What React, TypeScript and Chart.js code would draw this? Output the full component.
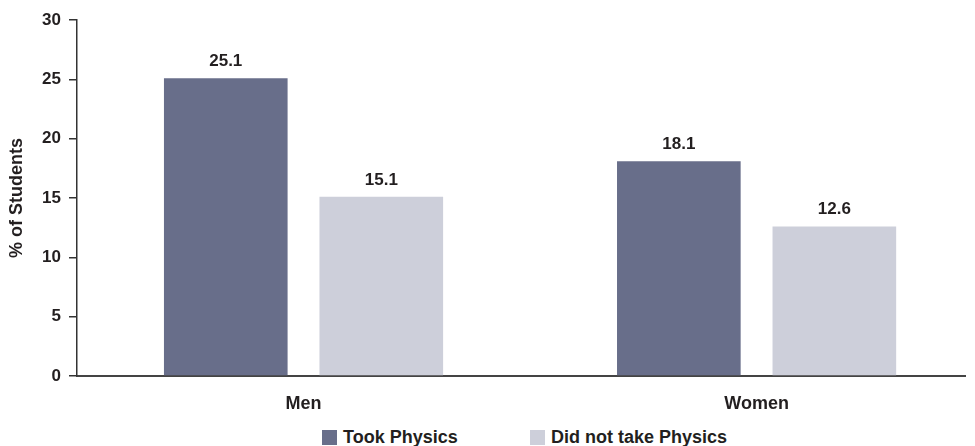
import React, { useEffect, useRef } from "react";
import { Chart, registerables } from "chart.js";

Chart.register(...registerables);

const categories = ["Men", "Women"];
const tookPhysics = [25.1, 18.1];
const didNotTakePhysics = [15.1, 12.6];
const seriesNames = ["Took Physics", "Did not take Physics"];
const seriesColors = ["#686e8a", "#cdcfda"];
const yTicks = [0, 5, 10, 15, 20, 25, 30];
const yTitle = "% of Students";

const FONT = '"Liberation Sans", Arial, Helvetica, sans-serif';
const TEXT = "#231f20";

const valueLabels = {
  id: "valueLabels",
  afterDatasetsDraw(chart: any) {
    const ctx = chart.ctx;
    ctx.save();
    ctx.font = `bold 17px ${FONT}`;
    ctx.fillStyle = TEXT;
    ctx.textAlign = "center";
    ctx.textBaseline = "alphabetic";
    chart.data.datasets.forEach((ds: any, di: number) => {
      const meta = chart.getDatasetMeta(di);
      meta.data.forEach((el: any, i: number) => {
        const v = ds.data[i].y;
        ctx.fillText(Number(v).toFixed(1), el.x, el.y - 12);
      });
    });
    ctx.restore();
  },
};

export default function App() {
  const ref = useRef<HTMLCanvasElement | null>(null);

  useEffect(() => {
    if (!ref.current) return;
    const series = [tookPhysics, didNotTakePhysics];
    const chart = new Chart(ref.current, {
      type: "bar",
      data: {
        datasets: series.map((vals, si) => ({
          label: seriesNames[si],
          data: vals.map((v, i) => ({ x: i, y: v })),
          backgroundColor: seriesColors[si],
          borderWidth: 0,
          categoryPercentage: 0.6865,
          barPercentage: 0.795,
        })),
      },
      options: {
        responsive: false,
        animation: false,
        layout: { padding: { top: 20, right: 10, left: 0, bottom: 0 } },
        plugins: {
          legend: { display: false },
          tooltip: { enabled: false },
        },
        scales: {
          x: {
            type: "linear",
            min: -0.5,
            max: 1.46,
            offset: false,
            grid: { display: false, drawTicks: false, offset: false },
            border: { display: true, color: "#444", width: 2 },
            afterBuildTicks: (s: any) => {
              s.ticks = categories.map((_, i) => ({ value: i }));
            },
            ticks: {
              autoSkip: false,
              maxRotation: 0,
              padding: 17,
              color: TEXT,
              font: { family: FONT, size: 18, weight: "bold" },
              callback: (v: any) => categories[v] ?? "",
            },
            afterFit: (s: any) => {
              s.height = 44;
            },
          },
          y: {
            min: 0,
            max: 30,
            afterBuildTicks: (s: any) => {
              s.ticks = yTicks.map((v) => ({ value: v }));
            },
            grid: {
              display: true,
              drawOnChartArea: false,
              drawTicks: true,
              tickLength: 8,
              color: "#333",
              lineWidth: 1.5,
            },
            border: { display: true, color: "#333", width: 1.5 },
            ticks: {
              padding: 8,
              color: TEXT,
              font: { family: FONT, size: 17, weight: "bold" },
            },
            title: {
              display: true,
              text: yTitle,
              color: TEXT,
              font: { family: FONT, size: 18, weight: "bold" },
              padding: { top: 6, bottom: 0 },
            },
            afterFit: (s: any) => {
              s.width = 77;
            },
          },
        },
      } as any,
      plugins: [valueLabels],
    });
    return () => chart.destroy();
  }, []);

  return (
    <div
      style={{
        position: "fixed",
        left: 0,
        top: 0,
        width: 975,
        height: 446,
        background: "#fff",
        overflow: "hidden",
      }}
    >
      <canvas ref={ref} width={975} height={420} style={{ position: "absolute", left: 0, top: 0 }} />
      <div
        style={{
          position: "absolute",
          left: 322,
          top: 428,
          display: "flex",
          alignItems: "center",
          fontFamily: FONT,
          fontWeight: "bold",
          fontSize: 18,
          lineHeight: "18px",
          color: TEXT,
          whiteSpace: "nowrap",
        }}
      >
        {seriesNames.map((name, i) => (
          <div
            key={name}
            style={{ display: "flex", alignItems: "center", width: i === 0 ? 208 : "auto" }}
          >
            <span
              style={{
                display: "inline-block",
                width: 15,
                height: 15,
                background: seriesColors[i],
                marginRight: 6,
              }}
            />
            <span>{name}</span>
          </div>
        ))}
      </div>
    </div>
  );
}
